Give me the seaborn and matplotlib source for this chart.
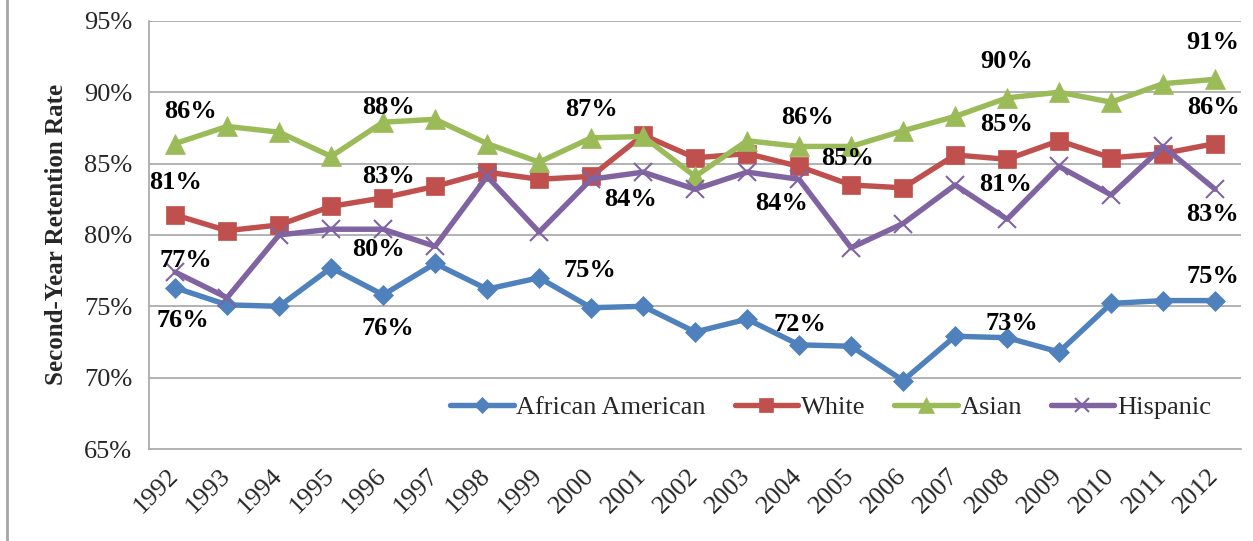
import matplotlib
matplotlib.use("Agg")
import matplotlib.pyplot as plt
import seaborn as sns
from matplotlib.ticker import FixedLocator

sns.set_style("white")
plt.rcParams['font.family'] = ['Liberation Serif', 'DejaVu Serif']

years = list(range(1992, 2013))
african_american = [76.3, 75.1, 75.0, 77.7, 75.8, 78.0, 76.2, 77.0, 74.9, 75.0, 73.2,
                    74.1, 72.3, 72.2, 69.8, 72.9, 72.8, 71.8, 75.2, 75.4, 75.4]
white = [81.4, 80.3, 80.7, 82.0, 82.6, 83.4, 84.4, 83.9, 84.1, 87.0, 85.4,
         85.7, 84.8, 83.5, 83.3, 85.6, 85.3, 86.6, 85.4, 85.7, 86.4]
asian = [86.4, 87.6, 87.2, 85.5, 87.9, 88.1, 86.4, 85.1, 86.8, 86.9, 84.1,
         86.6, 86.2, 86.2, 87.3, 88.3, 89.6, 90.0, 89.3, 90.6, 90.9]
hispanic = [77.4, 75.6, 80.0, 80.4, 80.4, 79.2, 84.1, 80.2, 83.9, 84.4, 83.2,
            84.4, 83.9, 79.1, 80.8, 83.5, 81.1, 84.8, 82.8, 86.2, 83.2]

series_names = ["African American", "White", "Asian", "Hispanic"]
series_values = [african_american, white, asian, hispanic]

# years that carry a data label, per series
label_years = {
    "African American": [1992, 1996, 2000, 2004, 2008, 2012],
    "White": [1992, 1996, 2004, 2008, 2012],
    "Asian": [1992, 1996, 2000, 2004, 2008, 2012],
    "Hispanic": [1992, 1996, 2000, 2004, 2008, 2012],
}

# styling
colors = {"African American": "#4F81BD", "White": "#C0504D",
          "Asian": "#9BBB59", "Hispanic": "#8064A2"}
markers = {"African American": ("D", 10), "White": ("s", 13),
           "Asian": ("^", 14), "Hispanic": ("x", 13)}
label_offsets = {
    "African American": [(8, -33), (5, -34), (-1, 37), (1, 20), (5, 14), (-2, 24)],
    "White": [(0, 32), (5, 21), (48, 8), (-1, 35), (-2, 36)],
    "Asian": [(15, 32), (5, 15), (0, 28), (8, 29), (0, 36), (-2, 37)],
    "Hispanic": [(11, 12), (-5, -20), (39, -20), (-18, -24), (-2, 35), (-3, -25)],
}
grid_gray = "#A6A6A6"
fs = 19

fig = plt.figure(figsize=(12.53, 5.41), dpi=100)
ax = fig.add_axes([0.119, 0.170, 0.8715, 0.7915])

for name, vals in zip(series_names, series_values):
    m, ms = markers[name]
    sns.lineplot(x=years, y=vals, ax=ax, color=colors[name], linewidth=3.9,
                 marker=m, markersize=ms, markeredgecolor=colors[name],
                 markeredgewidth=1.5 if m == "x" else 0.5, label=name)
    for yr, (dx, dy) in zip(label_years[name], label_offsets[name]):
        v = vals[years.index(yr)]
        ax.annotate(f"{v:.0f}%", xy=(yr, v), xytext=(dx, dy), textcoords="offset pixels",
                    ha="center", va="center", fontsize=fs, fontweight="bold", color="black")

ax.set_ylim(65, 95)
ax.set_xlim(years[0] - 0.5, years[-1] + 0.5)
yt = list(range(65, 96, 5))
ax.set_yticks(yt)
ax.set_yticklabels([f"{t}%" for t in yt], fontsize=fs)
ax.set_xticks(years)
ax.set_xticklabels([str(y) for y in years], fontsize=fs, rotation=45,
                   ha="right", rotation_mode="anchor", va="center")
ax.xaxis.set_minor_locator(FixedLocator([y - 0.5 for y in years] + [years[-1] + 0.5]))
ax.tick_params(axis="x", which="major", length=0, pad=17)
ax.tick_params(axis="x", which="minor", length=8, width=1.2, color=grid_gray, direction="out")
ax.tick_params(axis="y", length=8, width=1.2, color=grid_gray, direction="out", pad=4)

for t in yt[1:]:
    ax.axhline(t, color=grid_gray, linewidth=1.2, zorder=0)
for s in ["top", "right"]:
    ax.spines[s].set_visible(False)
for s in ["left", "bottom"]:
    ax.spines[s].set_color(grid_gray)
    ax.spines[s].set_linewidth(1.2)

ax.set_xlabel("")
ax.set_ylabel("Second-Year Retention Rate", fontsize=18, fontweight="bold", labelpad=12)

ax.legend(loc="center", bbox_to_anchor=(0.624, 0.098), ncol=4, frameon=False,
          fontsize=fs, handlelength=2.4, handletextpad=0.1, columnspacing=1.1,
          markerscale=0.8)

# outer frame line on the left, as in the source image
fig.add_artist(plt.Line2D([0.0055, 0.0055], [0, 1], color=grid_gray, linewidth=2))

fig.savefig("out.png", dpi=100)
